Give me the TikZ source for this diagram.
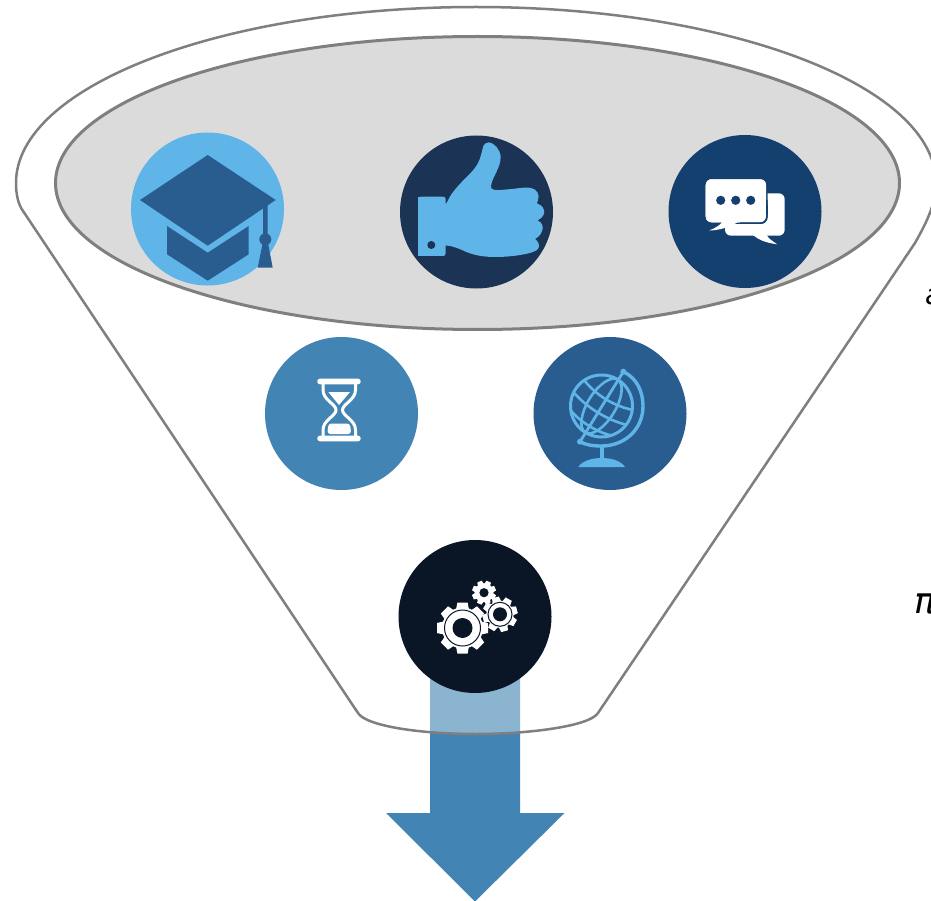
\documentclass[tikz,border=0pt]{standalone}
\usepackage{fontspec}
\setmainfont{DejaVu Sans}
\definecolor{lineg}{HTML}{7F7F80}
\definecolor{greyfill}{HTML}{DBDBDB}
\definecolor{skyb}{HTML}{5FB4E8}
\definecolor{steel}{HTML}{2A5D8F}
\definecolor{navy}{HTML}{1B3354}
\definecolor{royal}{HTML}{14406F}
\definecolor{midb}{HTML}{4285B4}
\definecolor{ink}{HTML}{0A1626}
\tikzset{
  badge/.style={circle,inner sep=0pt,minimum size=153pt,fill=#1},
  funnelline/.style={draw=lineg,line width=2.5pt,line join=round},
  cuttext/.style={anchor=west,inner sep=0pt,font=\itshape\fontsize{#1}{#1}\selectfont,text=black},
}
% centre x, y, outer r, body r, teeth, rotation, fill
\newcommand\cogwheel[7]{%
  \begin{scope}[shift={(#1,#2)}]
    \fill[#7] (0,0) circle[radius=#4 pt];
    \foreach \k in {1,...,#5}{
      \fill[#7,rotate=#6+\k*360/#5]
        (-0.27*#3,-0.8*#4) -- (-0.2*#3,-#3) -- (0.2*#3,-#3) -- (0.27*#3,-0.8*#4) -- cycle;
    }
  \end{scope}}
\begin{document}
\begin{tikzpicture}[x=1pt,y=-1pt]
\useasboundingbox (0,0) rectangle (931,901);
\clip (0,0) rectangle (931,901);
\fill[white] (0,0) rectangle (931,901);
% arrow
\fill[midb] (430,660) -- (520,660) -- (520,813) -- (564.5,813) -- (475,901.5) -- (386,813) -- (430,813) -- cycle;
% funnel
\path[fill=white,fill opacity=0.39,funnelline]
  (358,713) -- (23,211) .. controls (18,204) and (16,194) .. (16,183)
  .. controls (16,86) and (222,7) .. (476,7)
  .. controls (730,7) and (936,86) .. (936,183)
  .. controls (936,205) and (925,225) .. (915,243)
  -- (598,713) .. controls (590,726) and (530,734) .. (476,734)
  .. controls (420,734) and (366,726) .. (358,713) -- cycle;
\filldraw[fill=greyfill,draw=lineg,line width=3pt] (477.5,183) ellipse[x radius=422pt,y radius=146.5pt];
% badges
\node[badge=skyb] (cap) at (207.5,209) {};
\node[badge=navy] (thumb) at (476.5,212) {};
\node[badge=royal] (chat) at (745,211.5) {};
\node[badge=midb] (glass) at (341.5,413.5) {};
\node[badge=steel] (globe) at (610,413.5) {};
\node[badge=ink] (gears) at (475,616.5) {};
% graduation cap
\fill[steel] (140,200) -- (207.7,155) -- (275.7,200) -- (207.7,245.7) -- cycle;
\fill[steel] (167,226) -- (207.7,252.7) -- (248.7,226) -- (248.7,254.3) -- (207.7,280.7) -- (167,254.3) -- cycle;
\fill[steel] (263,206) -- (267.7,203) -- (267.7,236) -- (263,236) -- cycle;
\fill[steel] (265.3,239.3) circle[radius=6pt];
\fill[steel] (262.7,243) -- (257.7,267.7) -- (272.7,267.7) -- (268,243) -- cycle;
% thumb
\fill[skyb,rounded corners=2.5pt] (418.3,196.7) -- (445.7,196.7) -- (445.7,256) -- (418.3,256) -- cycle;
\fill[skyb] (418.3,196.7) rectangle (425,256);
\fill[skyb] (445,203.7) .. controls (447,205) and (448,198) .. (453.3,191.7)
  .. controls (460,183) and (468,176) .. (473.3,170)
  .. controls (480,162) and (481,155) .. (482.5,149)
  .. controls (483.5,144) and (486,142) .. (489,142.3)
  .. controls (494,143) and (500,149) .. (500.7,156.7)
  .. controls (501,163) and (497,171) .. (494,177)
  .. controls (492,181) and (490,187) .. (491.5,188.5)
  .. controls (494,191) and (500,190) .. (512,189)
  .. controls (520,188) and (527,187) .. (531,188)
  .. controls (537,189) and (540,195) .. (538,200)
  .. controls (537.5,202) and (537,203) .. (537,203.5)
  .. controls (542,205) and (545,209) .. (544,213.5)
  .. controls (543.5,216.5) and (540,219) .. (537.5,220.5)
  .. controls (542,222) and (544,227) .. (542,231)
  .. controls (541,235) and (537,238) .. (535,239)
  .. controls (538,241) and (540,245) .. (538.5,248)
  .. controls (537,251) and (533,252) .. (530,253)
  .. controls (518,256) and (505,257) .. (495,257)
  .. controls (480,257) and (470,254) .. (462,250)
  .. controls (455,247) and (450,245.5) .. (445,245.5) -- cycle;
\fill[navy] (431.3,245) circle[radius=4pt];
% chat
\fill[white,rounded corners=6pt] (725,210) -- (725,193.3) -- (784.7,193.3) -- (784.7,235.7) -- (725,235.7) -- cycle;
\fill[white] (753,235) .. controls (760,241) and (768,243) .. (777.3,244.3) .. controls (772,241) and (768,238) .. (766.7,235) -- cycle;
\filldraw[fill=white,draw=royal,line width=1.6pt,rounded corners=6pt] (704.9,178.5) rectangle (766.8,223.1);
\fill[white,rounded corners=6pt] (705.7,179.3) -- (766,179.3) -- (766,222.3) -- (705.7,222.3) -- cycle;
\fill[royal] (766.8,205) rectangle (768,215);
\draw[royal,line width=1.6pt,rounded corners=6pt] (766.8,200) -- (766.8,223.1) -- (740,223.1);
\fill[white] (723.3,221) .. controls (720,225) and (716,228) .. (709,230.5) .. controls (718,230.5) and (732,227) .. (739,221) -- cycle;
\fill[royal] (720.7,200.3) circle[radius=4.6pt] (735.7,200.3) circle[radius=4.6pt] (750.7,200.3) circle[radius=4.6pt];
% hourglass
\fill[white,rounded corners=2.6pt] (317.3,378.7) rectangle (360.7,384.3);
\fill[white,rounded corners=2.6pt] (317.3,435.7) rectangle (360.7,441.3);
\draw[white,line width=3pt] (323,384) -- (323,390) .. controls (323,400) and (336,404) .. (336,410)
  .. controls (336,416) and (323,420) .. (323,430) -- (323,436);
\draw[white,line width=3pt] (355.5,384) -- (355.5,390) .. controls (355.5,400) and (342.5,404) .. (342.5,410)
  .. controls (342.5,416) and (355.5,420) .. (355.5,430) -- (355.5,436);
\fill[white] (328.3,392) -- (350,392) -- (339,405) -- cycle;
\fill[white,rounded corners=3pt] (327.3,434) -- (328.5,423.5) -- (350,423.5) -- (351.2,434) -- cycle;
% globe
\begin{scope}
  \draw[skyb,line width=3pt] (601.5,406) circle[radius=31pt];
  \clip (601.5,406) circle[radius=31pt];
  \begin{scope}[shift={(601.5,406)},rotate=-31.6]
    \draw[skyb,line width=2.6pt] (0,0) ellipse[x radius=14pt,y radius=31pt];
    \draw[skyb,line width=2.6pt] (-31,-14) .. controls (-12,-6) and (12,-6) .. (31,-14);
    \draw[skyb,line width=2.6pt] (-31,3) .. controls (-12,9) and (12,9) .. (31,3);
    \draw[skyb,line width=2.6pt] (-26,19) .. controls (-12,25) and (12,25) .. (26,19);
  \end{scope}
\end{scope}
\draw[skyb,line width=2.8pt] (580,441.7) -- (623.3,371.7);
\fill[skyb] (580,441.7) circle[radius=3pt] (623.3,371.7) circle[radius=3pt];
\draw[skyb,line width=3.4pt] (623.3,371.7) .. controls (637,378) and (643,392) .. (643,406)
  .. controls (643,430) and (624,446) .. (601.5,446) .. controls (593,446) and (586,445) .. (580,441.7);
\fill[skyb] (599.5,446) rectangle (604,460);
\fill[skyb] (578.3,467) .. controls (582,461) and (592,458) .. (601.7,458) .. controls (612,458) and (621,461) .. (625,467) -- cycle;
% gears
\cogwheel{462.5}{628}{25.5}{20.5}{8}{0}{white}
\cogwheel{484}{592.7}{12}{9.5}{8}{22}{white}
\fill[ink] (500,614.3) circle[radius=15pt];
\cogwheel{500}{614.3}{17.5}{13.5}{8}{15}{white}
\draw[ink,line width=1pt] (462.5,628) circle[radius=18pt] (500,614.3) circle[radius=12pt];
\fill[ink] (462.5,628) circle[radius=10pt] (500,614.3) circle[radius=7pt] (484,592.7) circle[radius=4.6pt];
% clipped texts
\node[cuttext=28] (ta) at (925,297) {a};
\node[cuttext=36] (tp) at (914,604) {π};
\end{tikzpicture}
\end{document}
